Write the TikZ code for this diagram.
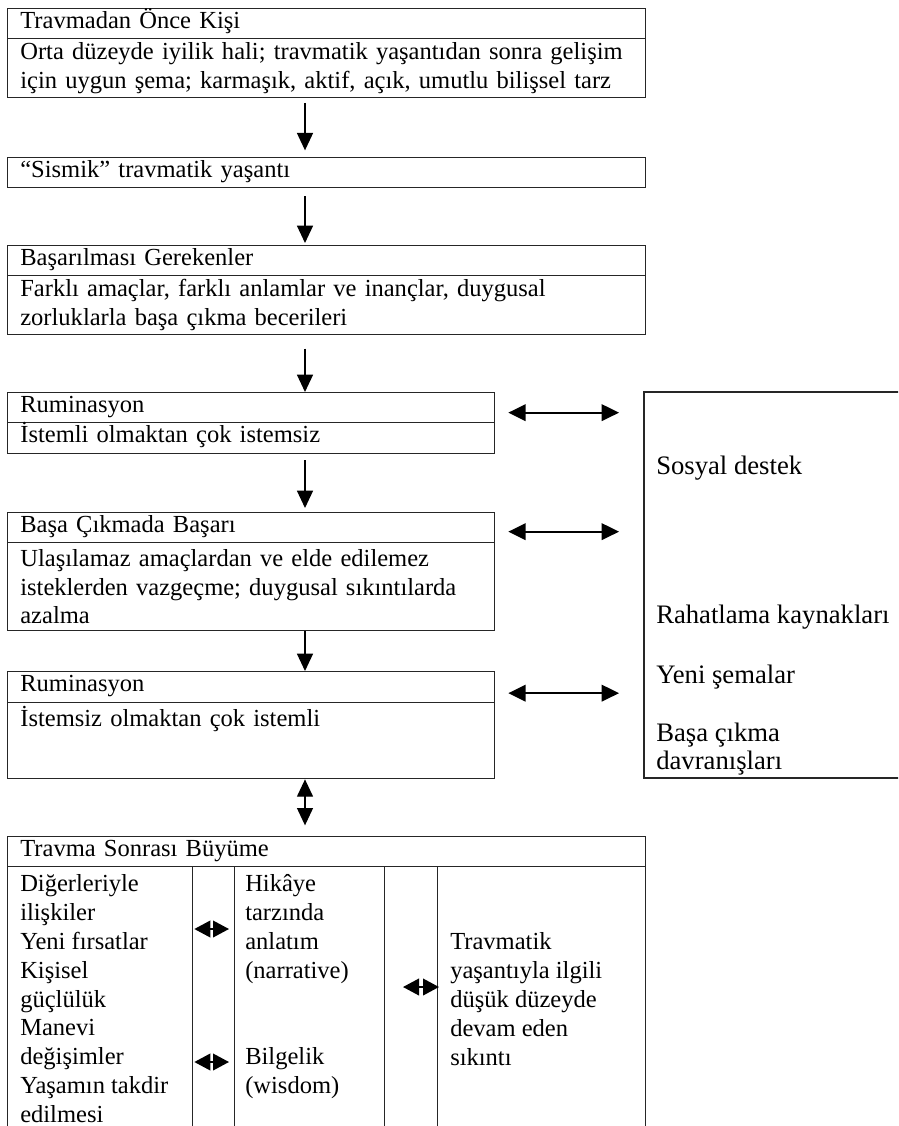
\documentclass[tikz,border=0pt]{standalone}
\usepackage{fontspec}
\setmainfont{Liberation Serif}
\newfontfamily\sidefont{Liberation Serif}
\usetikzlibrary{arrows.meta,calc}

\tikzset{
  box/.style={draw=black!85, line width=1pt, anchor=north west, align=left,
    inner xsep=9.5pt, inner ysep=0pt, text width=#1},
  box/.default=459.5pt,
  midbox/.style={box=346.25pt},
  line1/.style={text height=0.8em, text depth=0.14em},
  cell/.style={draw=black!85, line width=1pt, anchor=north west, inner sep=0pt,
    minimum height=225pt, minimum width=#1},
  words/.style={anchor=north west, align=left, inner sep=0pt},
  side/.style={anchor=west, align=left, inner sep=0pt, font=\sidefont\fontsize{20pt}{21pt}\selectfont},
  flow/.style={-{Triangle[length=13pt,width=12pt]}, line width=1pt},
  link/.style={{Triangle[length=13pt,width=12.5pt]}-{Triangle[length=13pt,width=12.5pt]}, line width=1.3pt},
  tiny/.style={{Triangle[length=12pt,width=12.5pt]}-{Triangle[length=12pt,width=12.5pt]}, line width=1.3pt},
  bothway/.style={{Triangle[length=13pt,width=12pt]}-{Triangle[length=13pt,width=12pt]}, line width=1pt},
}

\begin{document}
\begin{tikzpicture}[x=0.75pt,y=-0.75pt,font=\fontsize{18.4pt}{21.7pt}\selectfont]
  \useasboundingbox (0,0) rectangle (898,1126);
  \clip (0,0) rectangle (898,1126);
  \coordinate (spine) at (305,0);

  % main column
  \node[box, line1, minimum height=22.5pt] (preH) at (7,8) {Travmadan Önce Kişi};
  \node[box, minimum height=44.25pt] (preB) at (7,38) {Orta düzeyde iyilik hali; travmatik yaşantıdan sonra gelişim\\için uygun şema; karmaşık, aktif, açık, umutlu bilişsel tarz};

  \node[box, line1, minimum height=22.5pt] (seis) at (7,157) {“Sismik” travmatik yaşantı};

  \node[box, line1, minimum height=22.5pt] (needH) at (7,245) {Başarılması Gerekenler};
  \node[box, minimum height=44.25pt] (needB) at (7,275) {Farklı amaçlar, farklı anlamlar ve inançlar, duygusal\\zorluklarla başa çıkma becerileri};

  \node[midbox, line1, minimum height=22.5pt] (rumAH) at (7,392) {Ruminasyon};
  \node[midbox, line1, minimum height=23.25pt] (rumAB) at (7,422) {İstemli olmaktan çok istemsiz};

  \node[midbox, line1, minimum height=22.5pt] (copH) at (7,512) {Başa Çıkmada Başarı};
  \node[midbox, minimum height=66pt] (copB) at (7,542) {Ulaşılamaz amaçlardan ve elde edilemez\\isteklerden vazgeçme; duygusal sıkıntılarda\\azalma};

  \node[midbox, line1, minimum height=23.25pt] (rumBH) at (7,671) {Ruminasyon};
  \node[midbox, text height=17.5pt, text depth=39.5pt] (rumBB) at (7,702) {İstemsiz olmaktan çok istemli};

  % resources on the right
  \node[anchor=north west, inner sep=0pt, outer sep=0pt, minimum width=195pt, minimum height=289.5pt] (aid) at (644,392) {};
  \draw[draw=black!85, line width=1pt] (aid.north east) -- (aid.north west) -- (aid.south west) -- (aid.south east);
  \node[side] (soc) at (656,468) {Sosyal destek};
  \node[side] (rel) at (656,617) {Rahatlama kaynakları};
  \node[side] (sch) at (656,677) {Yeni şemalar};
  \node[side] (cop) at (656,749) {Başa çıkma\\davranışları};

  % growth box
  \node[box, line1, minimum height=22.5pt] (growH) at (7,836) {Travma Sonrası Büyüme};
  \node[cell=138.75pt] (colA) at (7,866) {};
  \node[cell=31.5pt] (gapA) at (192,866) {};
  \node[cell=112.5pt] (colB) at (234,866) {};
  \node[cell=39.75pt] (gapB) at (384,866) {};
  \node[cell=156pt] (colC) at (437,866) {};
  \node[words] (gainA) at (20,874) {Diğerleriyle\\ilişkiler\\Yeni fırsatlar\\Kişisel\\güçlülük\\Manevi\\değişimler\\Yaşamın takdir\\edilmesi};
  \node[words] (gainB) at (245,874) {Hikâye\\tarzında\\anlatım\\(narrative)\\[43.4pt]Bilgelik\\(wisdom)};
  \node[words] (gainC) at (450,932) {Travmatik\\yaşantıyla ilgili\\düşük düzeyde\\devam eden\\sıkıntı};

  % arrows
  \draw[flow, shorten <=3.5pt, shorten >=5pt] (preB.south -| spine) -- (seis.north -| spine);
  \draw[flow, shorten <=6pt, shorten >=1.5pt] (seis.south -| spine) -- (needH.north -| spine);
  \draw[flow, shorten <=10pt] (needB.south -| spine) -- (rumAH.north -| spine);
  \draw[flow, shorten <=4.5pt, shorten >=3pt] (rumAB.south -| spine) -- (copH.north -| spine);
  \draw[flow] (copB.south -| spine) -- (rumBH.north -| spine);
  \draw[bothway, shorten >=8pt] (rumBB.south -| spine) -- (growH.north -| spine);

  \draw[link] ($(rumAH.east)+(13,5)$) -- ($(rumAH.east -| aid.west)+(-25,5)$);
  \draw[link] ($(copH.east)+(13,4)$) -- ($(copH.east -| aid.west)+(-25,4)$);
  \draw[link] ($(rumBH.east)+(13,6)$) -- ($(rumBH.east -| aid.west)+(-25,6)$);

  \draw[tiny] ($(colA.north east)+(1,63)$) -- ($(colB.north west)+(-5,63)$);
  \draw[tiny] ($(colA.north east)+(1,196)$) -- ($(colB.north west)+(-5,196)$);
  \draw[tiny] ($(gapB.north west)+(19,121)$) -- ($(colC.north west)+(2,121)$);
\end{tikzpicture}
\end{document}
